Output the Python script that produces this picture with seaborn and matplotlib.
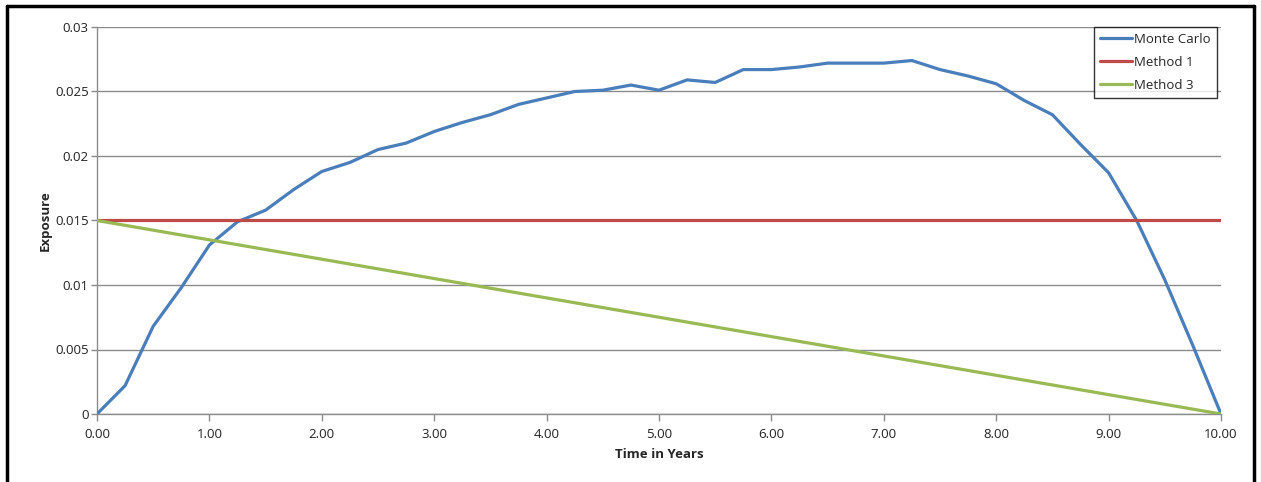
import numpy as np
import pandas as pd
import matplotlib
matplotlib.use("Agg")
import matplotlib.pyplot as plt
from matplotlib.lines import Line2D
import seaborn as sns

# Expected exposure profile over the life of the trade
mc_time = [0.00, 0.25, 0.50, 0.75, 1.00, 1.25, 1.50, 1.75, 2.00, 2.25, 2.50,
           2.75, 3.00, 3.25, 3.50, 3.75, 4.00, 4.25, 4.50, 4.75, 5.00, 5.25,
           5.50, 5.75, 6.00, 6.25, 6.50, 6.75, 7.00, 7.25, 7.50, 7.75, 8.00,
           8.25, 8.50, 8.75, 9.00, 9.25, 9.50, 9.75, 10.00]
mc_exposure = [0.0000, 0.0022, 0.0068, 0.0098, 0.0131, 0.0149, 0.0158, 0.0174,
               0.0188, 0.0195, 0.0205, 0.0210, 0.0219, 0.0226, 0.0232, 0.0240,
               0.0245, 0.0250, 0.0251, 0.0255, 0.0251, 0.0259, 0.0257, 0.0267,
               0.0267, 0.0269, 0.0272, 0.0272, 0.0272, 0.0274, 0.0267, 0.0262,
               0.0256, 0.0243, 0.0232, 0.0209, 0.0187, 0.0150, 0.0104, 0.0053,
               0.0000]
m1_time = [0.0, 10.0]
m1_exposure = [0.015, 0.015]
m3_time = [0.0, 10.0]
m3_exposure = [0.015, 0.0]

series_names = ["Monte Carlo", "Method 1", "Method 3"]
series_colors = ["#4A7EBB", "#BE4B48", "#98B954"]
x_ticks = [0, 1, 2, 3, 4, 5, 6, 7, 8, 9, 10]
y_ticks = [0, 0.005, 0.01, 0.015, 0.02, 0.025, 0.03]
y_tick_labels = ["0", "0.005", "0.01", "0.015", "0.02", "0.025", "0.03"]

df = pd.concat([
    pd.DataFrame({"Time": mc_time, "Exposure": mc_exposure, "Series": series_names[0]}),
    pd.DataFrame({"Time": m1_time, "Exposure": m1_exposure, "Series": series_names[1]}),
    pd.DataFrame({"Time": m3_time, "Exposure": m3_exposure, "Series": series_names[2]}),
], ignore_index=True)

sns.set_theme(style="white")
plt.rcParams["font.family"] = ["Open Sans", "DejaVu Sans"]

W, H = 1261, 482
fig = plt.figure(figsize=(W / 100, H / 100), dpi=100)
ax = fig.add_axes([97 / W, 1 - 414 / H, (1221 - 97) / W, (414 - 27) / H])

sns.lineplot(data=df, x="Time", y="Exposure", hue="Series",
             hue_order=series_names, palette=series_colors,
             linewidth=2.3, ax=ax, legend=False, sort=False,
             estimator=None, zorder=3)

ax.set_xlim(0, 10)
ax.set_ylim(0, 0.03)
ax.set_xticks(x_ticks)
ax.set_xticklabels([f"{v:.2f}" for v in x_ticks])
ax.set_yticks(y_ticks)
ax.set_yticklabels(y_tick_labels)

grid_color = "#8C8C8C"
ax.yaxis.grid(True, color=grid_color, linewidth=1.0, zorder=1)
ax.xaxis.grid(False)
for side in ["top", "right"]:
    ax.spines[side].set_visible(False)
for side in ["left", "bottom"]:
    ax.spines[side].set_color(grid_color)
    ax.spines[side].set_linewidth(1.0)

fs = 9.5
ax.tick_params(axis="x", direction="out", length=5, width=1, color=grid_color,
               labelsize=fs, pad=5, bottom=True)
ax.tick_params(axis="y", direction="out", length=4, width=1, color=grid_color,
               labelsize=fs, pad=2, left=True)
for lbl in ax.get_xticklabels() + ax.get_yticklabels():
    lbl.set_color("#222222")

ax.set_xlabel("Time in Years", fontsize=fs, fontweight="bold", labelpad=5)
ax.set_ylabel("Exposure", fontsize=fs, fontweight="bold", labelpad=2)

handles = [Line2D([0], [0], color=c, linewidth=2.3) for c in series_colors]
leg = ax.legend(handles, series_names, loc="upper right",
                bbox_to_anchor=(1217 / W, 1 - 27 / H),
                bbox_transform=fig.transFigure, fontsize=fs,
                frameon=True, fancybox=False, borderpad=0.45,
                handlelength=2.4, handletextpad=0.2, labelspacing=0.75,
                borderaxespad=0)
leg.get_frame().set_edgecolor("black")
leg.get_frame().set_linewidth(1.0)
leg.get_frame().set_facecolor("white")

# Outer chart frame
for xs, ys in [((7 / W, 7 / W), (1 - 6 / H, -0.05)),
               ((7 / W, 1254 / W), (1 - 6 / H, 1 - 6 / H)),
               ((1254 / W, 1254 / W), (1 - 6 / H, -0.05))]:
    fig.add_artist(Line2D(xs, ys, color="black", linewidth=2.5,
                          transform=fig.transFigure))

fig.savefig("out.png", dpi=100)
